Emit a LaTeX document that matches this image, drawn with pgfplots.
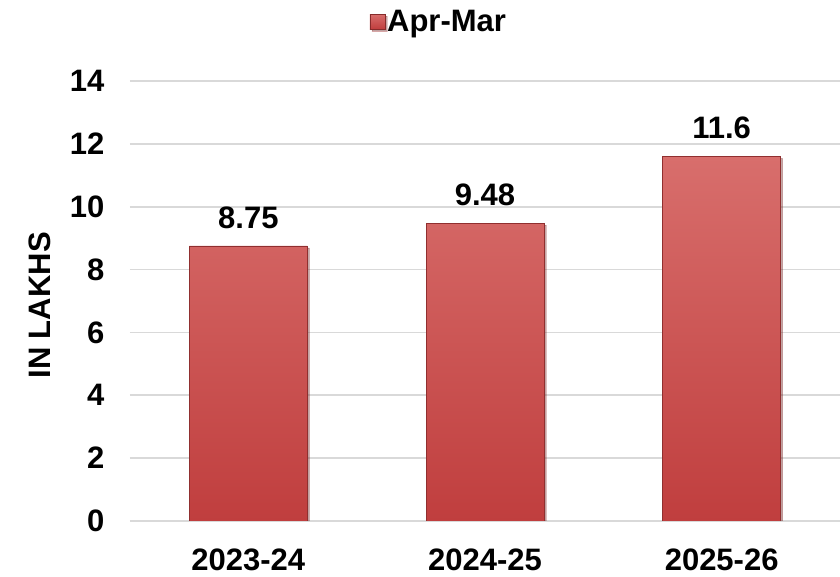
\documentclass[border=0pt]{standalone}
\usepackage{fontspec}
\setmainfont{Liberation Sans}
\usepackage{pgfplots}
\pgfplotsset{compat=1.18}
\usetikzlibrary{shadows}
\definecolor{gridgray}{RGB}{217,217,217}
\definecolor{bartop}{RGB}{216,110,108}
\definecolor{barbot}{RGB}{192,62,62}
\newcommand\lbl{\fontsize{31}{36}\selectfont\bfseries}
\begin{document}
\begin{tikzpicture}
\useasboundingbox (-130pt,-56pt) rectangle (710pt,521pt);
\begin{axis}[
  at={(0,0)}, anchor=south west,
  scale only axis, width=710pt, height=440pt,
  xmin=-0.5, xmax=2.5, ymin=0, ymax=14,
  xtick={0,1,2}, xticklabels={2023-24,2024-25,2025-26},
  ytick={0,2,...,14},
  axis line style={draw=none},
  major tick length=0pt,
  ymajorgrids, grid style={gridgray, line width=1.6pt},
  tick label style={font=\lbl},
  /pgf/number format/assume math mode=true,
  xticklabel style={anchor=north, yshift=-24pt},
  yticklabel style={anchor=east, xshift=-22pt},
  ylabel={IN LAKHS},
  ylabel style={font=\lbl, at={(axis description cs:-0.127,0.49)}, anchor=center},
  legend style={at={(0.435,1.134)}, anchor=center, draw=none, font=\lbl, fill=none},
  legend image code/.code={\shade[top color=bartop, bottom color=barbot, draw=barbot!70!black, line width=0.4pt] (0pt,-7pt) rectangle (15pt,8pt);},
  nodes near coords,
  nodes near coords style={font=\lbl, anchor=south, yshift=14pt},
]
\addplot[ybar, bar width=118pt, bar shift=0pt,
  top color=bartop, bottom color=barbot,
  draw=barbot!75!black, line width=0.6pt,
  drop shadow={shadow xshift=2pt, shadow yshift=-2pt, fill=black, opacity=0.25}]
  coordinates {(0,8.75) (1,9.48) (2,11.6)};
\addlegendentry{Apr-Mar}
\end{axis}
\end{tikzpicture}
\end{document}
